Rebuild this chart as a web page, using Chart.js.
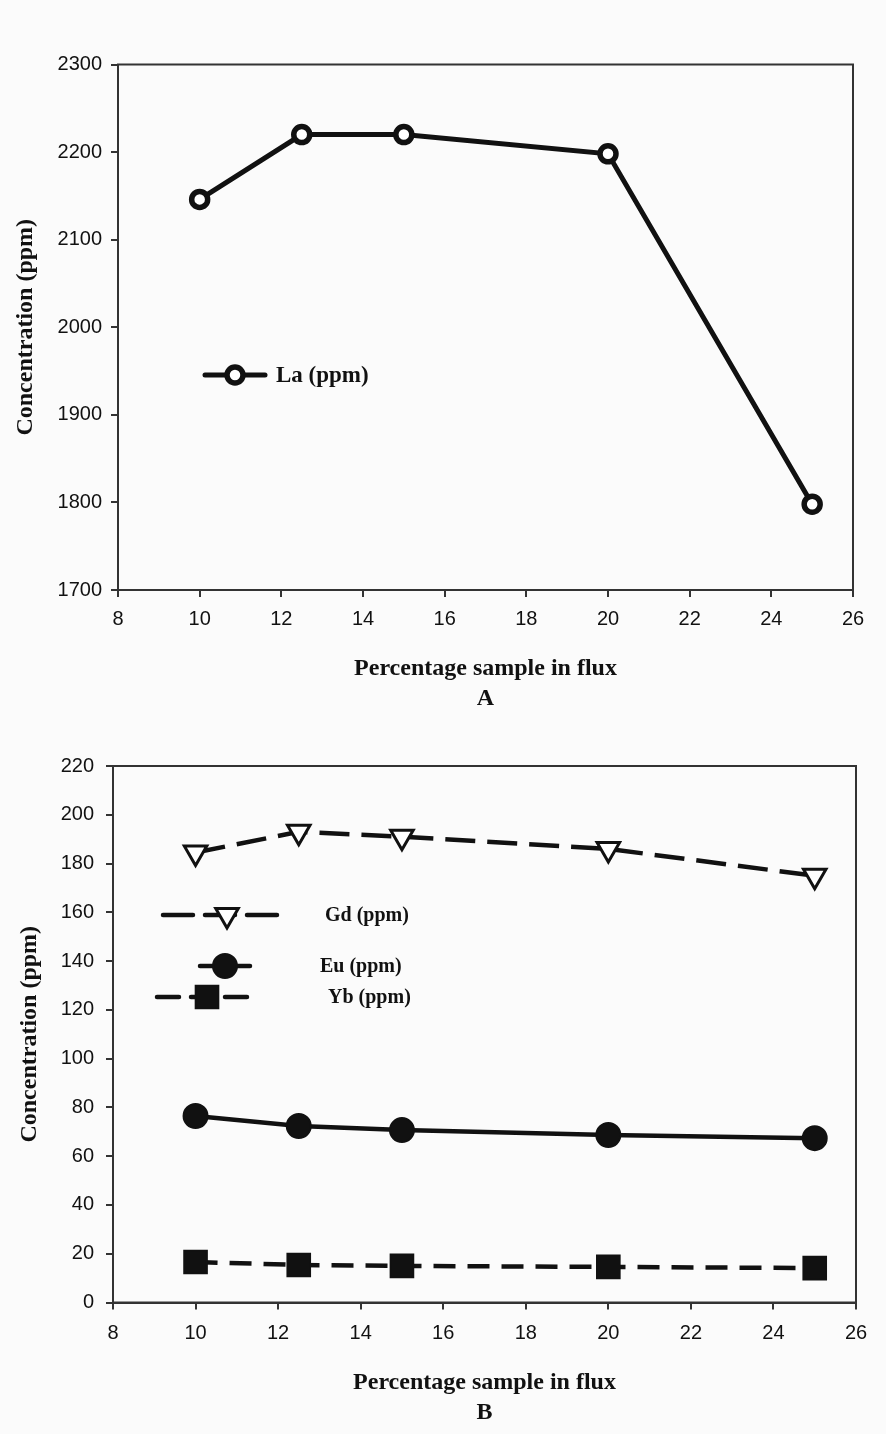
<!DOCTYPE html>
<html>
<head>
<meta charset="utf-8">
<title>Concentration vs percentage sample in flux</title>
<script src="https://cdn.jsdelivr.net/npm/chart.js@4.4.1/dist/chart.umd.min.js"></script>
<style>
  html, body { margin: 0; padding: 0; background: #fbfbfb; }
  .panel { position: absolute; left: 0; width: 886px; }
  #panelA { top: 0; height: 720px; }
  #panelB { top: 720px; height: 714px; }
</style>
</head>
<body>
<div class="panel" id="panelA"><canvas id="chartA" width="886" height="720"></canvas></div>
<div class="panel" id="panelB"><canvas id="chartB" width="886" height="714"></canvas></div>
<script>
// percentage of sample in flux (x values shared by both panels)
var fluxPct = [10, 12.5, 15, 20, 25];

// panel A
var laPpm = [2146, 2220, 2220, 2198, 1798];
var xTicksA = [8, 10, 12, 14, 16, 18, 20, 22, 24, 26];
var yTicksA = [1700, 1800, 1900, 2000, 2100, 2200, 2300];

// panel B
var gdPpm = [184.5, 193, 191, 186, 175];
var euPpm = [76.5, 72.4, 70.7, 68.7, 67.4];
var ybPpm = [16.6, 15.4, 15.0, 14.6, 14.1];
var xTicksB = [8, 10, 12, 14, 16, 18, 20, 22, 24, 26];
var yTicksB = [0, 20, 40, 60, 80, 100, 120, 140, 160, 180, 200, 220];

var INK = '#111';
var AXIS = '#333';
var sansTick = { family: '"Liberation Sans", Arial, sans-serif', size: 20 };
var serifBold = { family: '"Liberation Serif", "Times New Roman", serif', size: 24, weight: 'bold' };

function pts(ys) {
  return fluxPct.map(function (x, i) { return { x: x, y: ys[i] }; });
}

// plain numbers on the axes, no thousands separator
function plain(v) { return String(v); }

// box around the plotting area (top and right sides included)
var frame = {
  id: 'frame',
  afterDraw: function (chart) {
    var a = chart.chartArea, ctx = chart.ctx;
    ctx.save();
    ctx.strokeStyle = AXIS;
    ctx.lineWidth = 2;
    ctx.strokeRect(a.left, a.top, a.right - a.left, a.bottom - a.top);
    ctx.restore();
  }
};

// legend drawn inside the plot: sample line, marker, label
var innerLegend = {
  id: 'innerLegend',
  afterDatasetsDraw: function (chart, args, opts) {
    var a = chart.chartArea, ctx = chart.ctx;
    (opts.items || []).forEach(function (it) {
      var ds = chart.data.datasets[it.dataset];
      var y = a.top + it.y;
      ctx.save();
      ctx.strokeStyle = ds.borderColor;
      ctx.lineWidth = ds.borderWidth;
      ctx.lineCap = 'round';
      ctx.setLineDash(ds.borderDash || []);
      ctx.beginPath();
      ctx.moveTo(a.left + it.x0, y);
      ctx.lineTo(a.left + it.x1, y);
      ctx.stroke();
      ctx.setLineDash([]);
      ctx.lineCap = 'butt';
      ctx.strokeStyle = ds.pointBorderColor;
      ctx.fillStyle = ds.pointBackgroundColor;
      ctx.lineWidth = ds.pointBorderWidth;
      Chart.helpers.drawPoint(ctx, {
        pointStyle: ds.pointStyle,
        radius: ds.pointRadius,
        rotation: ds.pointRotation || 0,
        borderWidth: ds.pointBorderWidth
      }, a.left + it.mx, y);
      ctx.fillStyle = INK;
      ctx.font = 'bold ' + opts.fontSize + 'px "Liberation Serif", "Times New Roman", serif';
      ctx.textBaseline = 'middle';
      ctx.textAlign = 'left';
      ctx.fillText(ds.label, a.left + it.tx, y + 1);
      ctx.restore();
    });
  }
};

function xAxis(ticks, label, height, tickPad, titlePad) {
  return {
    type: 'linear',
    min: ticks[0],
    max: ticks[ticks.length - 1],
    afterBuildTicks: function (s) { s.ticks = ticks.map(function (v) { return { value: v }; }); },
    afterFit: function (s) { s.height = height; },
    grid: { drawOnChartArea: false, drawTicks: true, tickLength: 7, color: AXIS, lineWidth: 2 },
    border: { display: true, color: AXIS, width: 2 },
    ticks: { color: INK, font: sansTick, padding: tickPad, maxRotation: 0, callback: plain },
    title: {
      display: true,
      text: ['Percentage sample in flux', label],
      color: INK,
      font: Object.assign({ lineHeight: 1.25 }, serifBold),
      padding: { top: 0, bottom: titlePad }
    }
  };
}

function yAxis(ticks, width, tickPad, titlePad) {
  return {
    type: 'linear',
    min: ticks[0],
    max: ticks[ticks.length - 1],
    afterBuildTicks: function (s) { s.ticks = ticks.map(function (v) { return { value: v }; }); },
    afterFit: function (s) { s.width = width; },
    grid: { drawOnChartArea: false, drawTicks: true, tickLength: 7, color: AXIS, lineWidth: 2 },
    border: { display: true, color: AXIS, width: 2 },
    ticks: { color: INK, font: sansTick, padding: tickPad, callback: plain },
    title: {
      display: true,
      text: 'Concentration (ppm)',
      color: INK,
      font: serifBold,
      padding: { top: titlePad, bottom: 0 }
    }
  };
}

var common = {
  responsive: false,
  animation: false,
  devicePixelRatio: 1,
  plugins: { legend: { display: false }, tooltip: { enabled: false } }
};

new Chart(document.getElementById('chartA'), {
  type: 'line',
  data: {
    datasets: [{
      label: 'La (ppm)',
      data: pts(laPpm),
      borderColor: INK,
      borderWidth: 5,
      pointStyle: 'circle',
      pointRadius: 8,
      pointBorderWidth: 5.5,
      pointBorderColor: INK,
      pointBackgroundColor: '#fff',
      tension: 0
    }]
  },
  options: Object.assign({}, common, {
    layout: { padding: { left: 0, right: 33, top: 64.5, bottom: 0 } },
    scales: {
      x: xAxis(xTicksA, 'A', 130, 10, 6),
      y: yAxis(yTicksA, 118, 9, 11)
    },
    plugins: Object.assign({}, common.plugins, {
      innerLegend: {
        fontSize: 23,
        items: [{ dataset: 0, x0: 87, x1: 147, mx: 117, y: 310.5, tx: 158 }]
      }
    })
  }),
  plugins: [frame, innerLegend]
});

new Chart(document.getElementById('chartB'), {
  type: 'line',
  data: {
    datasets: [{
      label: 'Gd (ppm)',
      data: pts(gdPpm),
      borderColor: INK,
      borderWidth: 4.5,
      borderDash: [30, 12],
      pointStyle: 'triangle',
      pointRotation: 180,
      pointRadius: 13,
      pointBorderWidth: 3,
      pointBorderColor: INK,
      pointBackgroundColor: '#fff',
      tension: 0
    }, {
      label: 'Eu (ppm)',
      data: pts(euPpm),
      borderColor: INK,
      borderWidth: 4.5,
      pointStyle: 'circle',
      pointRadius: 12,
      pointBorderWidth: 2,
      pointBorderColor: INK,
      pointBackgroundColor: INK,
      tension: 0
    }, {
      label: 'Yb (ppm)',
      data: pts(ybPpm),
      borderColor: INK,
      borderWidth: 4.5,
      borderDash: [22, 12],
      pointStyle: 'rect',
      pointRadius: 16,
      pointBorderWidth: 2,
      pointBorderColor: INK,
      pointBackgroundColor: INK,
      tension: 0
    }]
  },
  options: Object.assign({}, common, {
    layout: { padding: { left: 0, right: 30, top: 46, bottom: 0 } },
    scales: {
      x: xAxis(xTicksB, 'B', 131.5, 12, 6),
      y: yAxis(yTicksB, 113, 12, 15)
    },
    plugins: Object.assign({}, common.plugins, {
      innerLegend: {
        fontSize: 20,
        items: [
          { dataset: 0, x0: 50, x1: 167, mx: 114, y: 149, tx: 212 },
          { dataset: 1, x0: 87, x1: 137, mx: 112, y: 200, tx: 207 },
          { dataset: 2, x0: 44, x1: 135, mx: 94, y: 231, tx: 215 }
        ]
      }
    })
  }),
  plugins: [frame, innerLegend]
});
</script>
</body>
</html>
